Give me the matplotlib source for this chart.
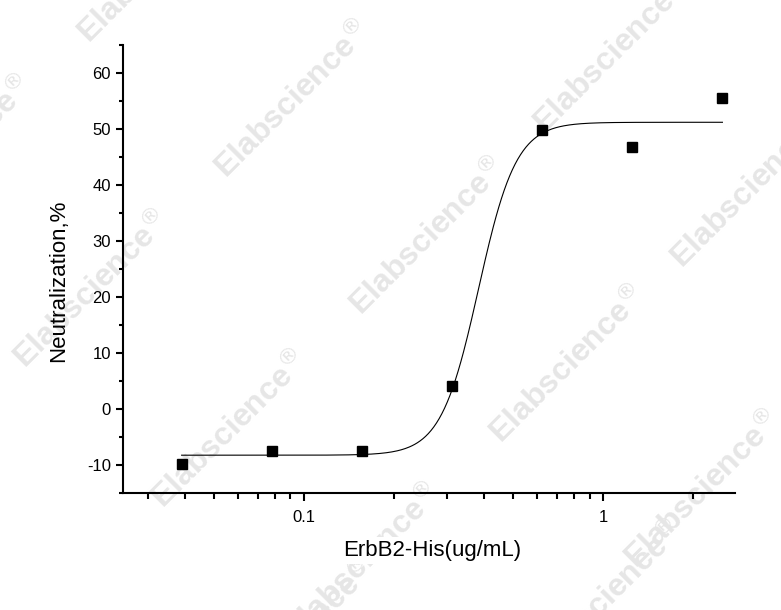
import numpy as np
import matplotlib
matplotlib.use("Agg")
import matplotlib.pyplot as plt
from matplotlib.ticker import LogLocator, NullFormatter, FixedLocator, MultipleLocator

plt.rcParams['font.family'] = ['Liberation Sans', 'DejaVu Sans']
plt.rcParams['axes.unicode_minus'] = False

# concentrations (ug/mL) and measured neutralization (%)
conc = [0.039, 0.078, 0.156, 0.3125, 0.625, 1.25, 2.5]
neutralization = [-9.9, -7.5, -7.5, 4.1, 49.9, 46.7, 55.5]

# 4-parameter logistic fit
fit_bottom = -8.25
fit_top = 51.2
fit_ec50 = 0.383
fit_hill = 6.9

# watermark centres in pixels (x, y from top-left)
watermarks = [(156, -35), (293, 100), (428, 237), (568, 365), (703, 490),
              (-45, 155), (92, 290), (230, 430), (363, 563),
              (612, 55), (749, 190), (297, 638), (605, 600)]

W, H = 781, 610
fig = plt.figure(figsize=(W / 100, H / 100), dpi=100)

for (cx, cy) in watermarks:
    fig.text(cx / W, 1 - cy / H, "Elabscience$^{\u00ae}$", rotation=45,
             ha='center', va='center', fontsize=23, fontweight='bold',
             color='#e6e6e6', zorder=-1)

ax = fig.add_axes([123.3 / W, 1 - 493 / H, (735 - 123.3) / W, (493 - 45) / H])
ax.patch.set_visible(False)

# fitted curve
xf = np.logspace(np.log10(conc[0]), np.log10(conc[-1]), 400)
yf = fit_bottom + (fit_top - fit_bottom) / (1 + (fit_ec50 / xf) ** fit_hill)
ax.plot(xf, yf, color='black', lw=0.8)

ax.plot(conc, neutralization, 's', color='black', ms=6.5, zorder=3)

ax.set_xscale('log')
ax.set_xlim(0.0249, 2.754)
ax.set_ylim(-15, 65)

ax.xaxis.set_major_locator(FixedLocator([0.1, 1]))
ax.set_xticklabels(['0.1', '1'])
ax.xaxis.set_minor_locator(LogLocator(base=10, subs=np.arange(2, 10)))
ax.xaxis.set_minor_formatter(NullFormatter())
ax.yaxis.set_major_locator(FixedLocator(np.arange(-10, 61, 10)))
ax.yaxis.set_minor_locator(MultipleLocator(5))

for side in ['top', 'right']:
    ax.spines[side].set_visible(False)
for side in ['left', 'bottom']:
    ax.spines[side].set_linewidth(1.5)

ax.tick_params(axis='x', which='major', direction='out', length=6, width=1.5,
               labelsize=12, pad=6)
ax.tick_params(axis='x', which='minor', direction='out', length=4, width=1.5)
ax.tick_params(axis='y', which='major', direction='out', length=5, width=1.5,
               labelsize=12, pad=4)
ax.tick_params(axis='y', which='minor', direction='out', length=3, width=1.5)

ax.set_xlabel('ErbB2-His(ug/mL)', fontsize=16,
              bbox=dict(facecolor='white', edgecolor='none', pad=2))
ax.xaxis.set_label_coords(0.5055, -0.105)
ax.set_ylabel('Neutralization,%', fontsize=16)
ax.yaxis.set_label_coords(-0.088, 0.474)

fig.savefig('out.png', dpi=100)
